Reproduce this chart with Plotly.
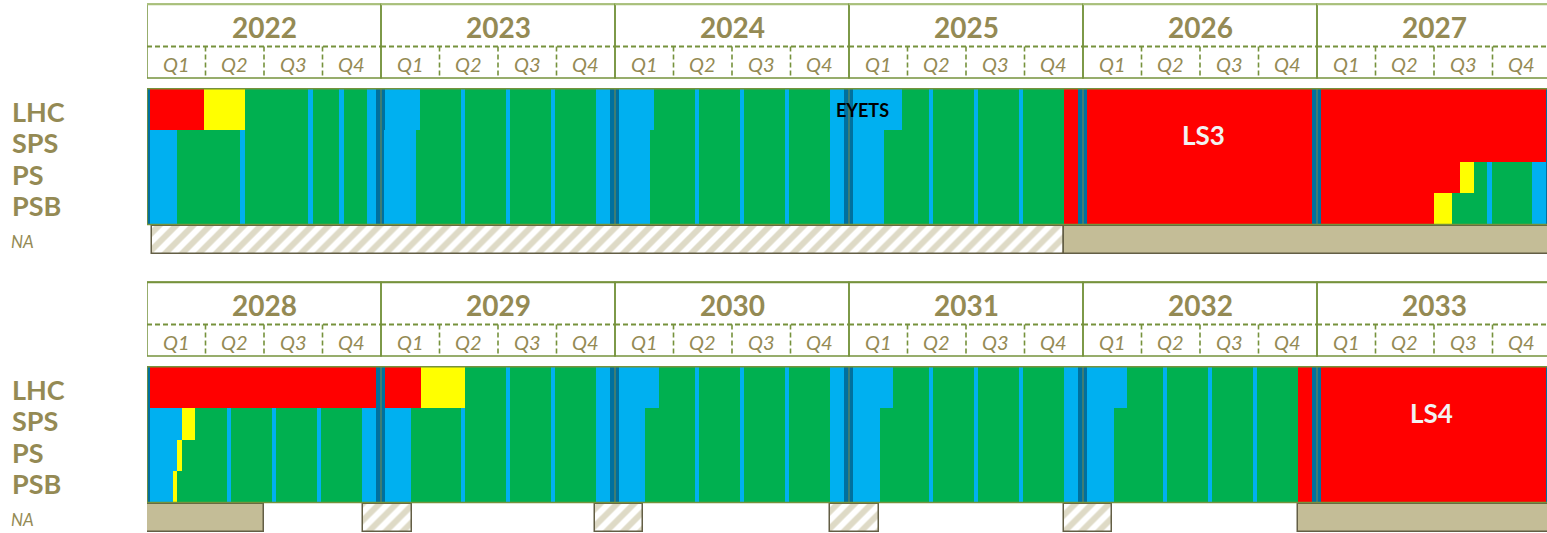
import plotly.graph_objects as go

# ---------------- DATA ----------------
YEARS_TOP = [2022, 2023, 2024, 2025, 2026, 2027]
YEARS_BOTTOM = [2028, 2029, 2030, 2031, 2032, 2033]
QUARTERS = ["Q1", "Q2", "Q3", "Q4"]
MACHINES = ["LHC", "SPS", "PS", "PSB"]

# state codes: T = year-end closure, B = technical stop / YETS, G = physics,
# Y = beam commissioning, R = shutdown.  Each entry = (start year, state);
# the state lasts until the next entry's start.
LHC = [
    (2022.000, "T"), (2022.013, "R"), (2022.244, "Y"), (2022.419, "G"), (2022.688, "B"), (2022.709, "G"),
    (2022.821, "B"), (2022.842, "G"), (2022.940, "B"), (2022.979, "T"),
    (2023.017, "B"), (2023.167, "G"), (2023.342, "B"), (2023.359, "G"), (2023.534, "B"), (2023.551, "G"),
    (2023.727, "B"), (2023.744, "G"), (2023.919, "B"), (2023.979, "T"),
    (2024.017, "B"), (2024.167, "G"), (2024.342, "B"), (2024.359, "G"), (2024.534, "B"), (2024.551, "G"),
    (2024.727, "B"), (2024.744, "G"), (2024.919, "B"), (2024.979, "T"),
    (2025.017, "B"), (2025.226, "G"), (2025.342, "B"), (2025.359, "G"), (2025.534, "B"), (2025.551, "G"),
    (2025.727, "B"), (2025.744, "G"), (2025.919, "R"), (2025.979, "T"),
    (2026.017, "R"), (2026.979, "T"), (2027.017, "R"), (2027.979, "T"),
    (2028.013, "R"), (2028.977, "T"),
    (2029.017, "R"), (2029.171, "Y"), (2029.359, "G"), (2029.534, "B"), (2029.551, "G"),
    (2029.727, "B"), (2029.744, "G"), (2029.919, "B"), (2029.979, "T"),
    (2030.017, "B"), (2030.188, "G"), (2030.342, "B"), (2030.359, "G"), (2030.534, "B"), (2030.551, "G"),
    (2030.727, "B"), (2030.744, "G"), (2030.919, "B"), (2030.979, "T"),
    (2031.017, "B"), (2031.188, "G"), (2031.342, "B"), (2031.359, "G"), (2031.534, "B"), (2031.551, "G"),
    (2031.727, "B"), (2031.744, "G"), (2031.919, "B"), (2031.979, "T"),
    (2032.017, "B"), (2032.188, "G"), (2032.342, "B"), (2032.359, "G"), (2032.534, "B"), (2032.551, "G"),
    (2032.727, "B"), (2032.744, "G"), (2032.919, "R"), (2032.979, "T"),
    (2033.017, "R"), (2033.979, "T"),
]

SPS = [
    (2022.000, "T"), (2022.013, "B"), (2022.128, "G"), (2022.397, "B"), (2022.419, "G"), (2022.688, "B"),
    (2022.709, "G"), (2022.821, "B"), (2022.842, "G"), (2022.940, "B"), (2022.979, "T"),
    (2023.013, "B"), (2023.150, "G"), (2023.342, "B"), (2023.359, "G"), (2023.534, "B"), (2023.551, "G"),
    (2023.727, "B"), (2023.744, "G"), (2023.919, "B"), (2023.979, "T"),
    (2024.017, "B"), (2024.150, "G"), (2024.342, "B"), (2024.359, "G"), (2024.534, "B"), (2024.551, "G"),
    (2024.727, "B"), (2024.744, "G"), (2024.919, "B"), (2024.979, "T"),
    (2025.017, "B"), (2025.150, "G"), (2025.342, "B"), (2025.359, "G"), (2025.534, "B"), (2025.551, "G"),
    (2025.727, "B"), (2025.744, "G"), (2025.919, "R"), (2025.979, "T"),
    (2026.017, "R"), (2026.979, "T"), (2027.017, "R"), (2027.979, "T"),
    (2028.013, "B"), (2028.148, "Y"), (2028.205, "G"), (2028.342, "B"), (2028.359, "G"), (2028.534, "B"),
    (2028.551, "G"), (2028.727, "B"), (2028.744, "G"), (2028.919, "B"), (2028.977, "T"),
    (2029.017, "B"), (2029.128, "G"), (2029.342, "B"), (2029.359, "G"), (2029.534, "B"), (2029.551, "G"),
    (2029.727, "B"), (2029.744, "G"), (2029.919, "B"), (2029.979, "T"),
    (2030.017, "B"), (2030.128, "G"), (2030.342, "B"), (2030.359, "G"), (2030.534, "B"), (2030.551, "G"),
    (2030.727, "B"), (2030.744, "G"), (2030.919, "B"), (2030.979, "T"),
    (2031.017, "B"), (2031.132, "G"), (2031.342, "B"), (2031.359, "G"), (2031.534, "B"), (2031.551, "G"),
    (2031.727, "B"), (2031.744, "G"), (2031.919, "B"), (2031.979, "T"),
    (2032.017, "B"), (2032.132, "G"), (2032.342, "B"), (2032.359, "G"), (2032.534, "B"), (2032.551, "G"),
    (2032.727, "B"), (2032.744, "G"), (2032.919, "R"), (2032.979, "T"),
    (2033.017, "R"), (2033.979, "T"),
]

PS = [
    (2022.000, "T"), (2022.013, "B"), (2022.128, "G"), (2022.397, "B"), (2022.419, "G"), (2022.688, "B"),
    (2022.709, "G"), (2022.821, "B"), (2022.842, "G"), (2022.940, "B"), (2022.979, "T"),
    (2023.013, "B"), (2023.150, "G"), (2023.342, "B"), (2023.359, "G"), (2023.534, "B"), (2023.551, "G"),
    (2023.727, "B"), (2023.744, "G"), (2023.919, "B"), (2023.979, "T"),
    (2024.017, "B"), (2024.150, "G"), (2024.342, "B"), (2024.359, "G"), (2024.534, "B"), (2024.551, "G"),
    (2024.727, "B"), (2024.744, "G"), (2024.919, "B"), (2024.979, "T"),
    (2025.017, "B"), (2025.150, "G"), (2025.342, "B"), (2025.359, "G"), (2025.534, "B"), (2025.551, "G"),
    (2025.727, "B"), (2025.744, "G"), (2025.919, "R"), (2025.979, "T"),
    (2026.017, "R"), (2026.979, "T"),
    (2027.017, "R"), (2027.611, "Y"), (2027.671, "G"), (2027.726, "B"), (2027.748, "G"), (2027.919, "B"),
    (2027.979, "T"),
    (2028.013, "B"), (2028.127, "Y"), (2028.148, "G"), (2028.342, "B"), (2028.359, "G"), (2028.534, "B"),
    (2028.551, "G"), (2028.727, "B"), (2028.744, "G"), (2028.919, "B"), (2028.977, "T"),
    (2029.017, "B"), (2029.128, "G"), (2029.342, "B"), (2029.359, "G"), (2029.534, "B"), (2029.551, "G"),
    (2029.727, "B"), (2029.744, "G"), (2029.919, "B"), (2029.979, "T"),
    (2030.017, "B"), (2030.128, "G"), (2030.342, "B"), (2030.359, "G"), (2030.534, "B"), (2030.551, "G"),
    (2030.727, "B"), (2030.744, "G"), (2030.919, "B"), (2030.979, "T"),
    (2031.017, "B"), (2031.132, "G"), (2031.342, "B"), (2031.359, "G"), (2031.534, "B"), (2031.551, "G"),
    (2031.727, "B"), (2031.744, "G"), (2031.919, "B"), (2031.979, "T"),
    (2032.017, "B"), (2032.132, "G"), (2032.342, "B"), (2032.359, "G"), (2032.534, "B"), (2032.551, "G"),
    (2032.727, "B"), (2032.744, "G"), (2032.919, "R"), (2032.979, "T"),
    (2033.017, "R"), (2033.979, "T"),
]

PSB = [
    (2022.000, "T"), (2022.013, "B"), (2022.128, "G"), (2022.397, "B"), (2022.419, "G"), (2022.688, "B"),
    (2022.709, "G"), (2022.821, "B"), (2022.842, "G"), (2022.940, "B"), (2022.979, "T"),
    (2023.013, "B"), (2023.150, "G"), (2023.342, "B"), (2023.359, "G"), (2023.534, "B"), (2023.551, "G"),
    (2023.727, "B"), (2023.744, "G"), (2023.919, "B"), (2023.979, "T"),
    (2024.017, "B"), (2024.150, "G"), (2024.342, "B"), (2024.359, "G"), (2024.534, "B"), (2024.551, "G"),
    (2024.727, "B"), (2024.744, "G"), (2024.919, "B"), (2024.979, "T"),
    (2025.017, "B"), (2025.150, "G"), (2025.342, "B"), (2025.359, "G"), (2025.534, "B"), (2025.551, "G"),
    (2025.727, "B"), (2025.744, "G"), (2025.919, "R"), (2025.979, "T"),
    (2026.017, "R"), (2026.979, "T"),
    (2027.017, "R"), (2027.500, "Y"), (2027.577, "G"), (2027.726, "B"), (2027.748, "G"), (2027.919, "B"),
    (2027.979, "T"),
    (2028.013, "B"), (2028.110, "Y"), (2028.127, "G"), (2028.342, "B"), (2028.359, "G"), (2028.534, "B"),
    (2028.551, "G"), (2028.727, "B"), (2028.744, "G"), (2028.919, "B"), (2028.977, "T"),
    (2029.017, "B"), (2029.128, "G"), (2029.342, "B"), (2029.359, "G"), (2029.534, "B"), (2029.551, "G"),
    (2029.727, "B"), (2029.744, "G"), (2029.919, "B"), (2029.979, "T"),
    (2030.017, "B"), (2030.128, "G"), (2030.342, "B"), (2030.359, "G"), (2030.534, "B"), (2030.551, "G"),
    (2030.727, "B"), (2030.744, "G"), (2030.919, "B"), (2030.979, "T"),
    (2031.017, "B"), (2031.132, "G"), (2031.342, "B"), (2031.359, "G"), (2031.534, "B"), (2031.551, "G"),
    (2031.727, "B"), (2031.744, "G"), (2031.919, "B"), (2031.979, "T"),
    (2032.017, "B"), (2032.132, "G"), (2032.342, "B"), (2032.359, "G"), (2032.534, "B"), (2032.551, "G"),
    (2032.727, "B"), (2032.744, "G"), (2032.919, "R"), (2032.979, "T"),
    (2033.017, "R"), (2033.979, "T"),
]
TIMELINE_END = 2034.0

# North Area: (start, end, kind)  kind: "hatch" = hatched block, "solid" = shutdown
NA_BLOCKS = [
    (2022.020, 2025.919, "hatch"), (2025.919, 2028.000, "solid"),
    (2028.000, 2028.498, "solid"), (2028.923, 2029.131, "hatch"),
    (2029.915, 2030.118, "hatch"), (2030.917, 2031.127, "hatch"),
    (2031.917, 2032.126, "hatch"), (2032.919, 2034.000, "solid"),
]

# text labels placed on the timeline: (text, year position, row, colour, size)
PERIOD_LABELS = [("EYETS", 2025.056, "LHC", "#000000", 18),
                 ("LS3", 2026.517, "SPS_LS", "#F2F2F2", 26),
                 ("LS4", 2033.491, "SPS_LS", "#F2F2F2", 26)]

# ---------------- STYLE ----------------
STATE_COLORS = {"T": "#00709E", "B": "#00B0F0", "G": "#00B050", "Y": "#FFFF00", "R": "#FF0000"}
OLIVE_TEXT = "#948A54"
GRID = "#76923C"
TAN = "#C4BD97"
NA_EDGE = "#635E45"
FONT = "Lato"

W, H = 1547, 533
LEFT = 147
YEAR_PX = 234.0
# vertical layout (local px units, identical for both panels)
HDR_TOP, HDR_MID, HDR_BOT = 4.3, 46.5, 78.0
ROW_EDGES = {"LHC": (88.7, 130.0), "SPS": (130.0, 161.7), "PS": (161.7, 193.3), "PSB": (193.3, 224.5)}
NA_EDGES = (225.5, 253.5)
LABEL_Y = {"LHC": 111, "SPS": 142.5, "PS": 174, "PSB": 205.5, "NA": 241.5}

series = {"LHC": LHC, "SPS": SPS, "PS": PS, "PSB": PSB}

fig = go.Figure()

panels = [
    dict(years=YEARS_TOP, xa="x", ya="y", top_color="#A9C07A"),
    dict(years=YEARS_BOTTOM, xa="x2", ya="y2", top_color=GRID),
]

for p in panels:
    # machine rows
    for state, color in STATE_COLORS.items():
        ys, ws, bases, lens = [], [], [], []
        for m in MACHINES:
            seg = series[m]
            y0, y1 = ROW_EDGES[m]
            for i, (start, st) in enumerate(seg):
                end = seg[i + 1][0] if i + 1 < len(seg) else TIMELINE_END
                if st != state:
                    continue
                ys.append((y0 + y1) / 2)
                ws.append(y1 - y0)
                bases.append(start)
                lens.append(end - start)
        fig.add_trace(go.Bar(orientation="h", y=ys, x=lens, base=bases, width=ws,
                             marker=dict(color=color, line=dict(width=0)),
                             xaxis=p["xa"], yaxis=p["ya"], hoverinfo="skip", showlegend=False))
    # North Area blocks
    for kind in ("hatch", "solid"):
        bases = [b[0] for b in NA_BLOCKS if b[2] == kind]
        lens = [b[1] - b[0] for b in NA_BLOCKS if b[2] == kind]
        ymid = (NA_EDGES[0] + NA_EDGES[1]) / 2
        if kind == "hatch":
            marker = dict(color="white", pattern=dict(shape="/", fgcolor="#BDB58D", bgcolor="white",
                                                      size=12, solidity=0.5),
                          line=dict(color=NA_EDGE, width=1.5))
        else:
            marker = dict(color=TAN, line=dict(color=NA_EDGE, width=1.5))
        fig.add_trace(go.Bar(orientation="h", y=[ymid] * len(bases), x=lens, base=bases,
                             width=[NA_EDGES[1] - NA_EDGES[0]] * len(bases), marker=marker,
                             xaxis=p["xa"], yaxis=p["ya"], hoverinfo="skip", showlegend=False))

shapes = []
annotations = []
DASH = "5px,3px"
for p in panels:
    xa, ya = p["xa"], p["ya"]
    y0 = p["years"][0]
    for yr in p["years"]:
        # year cell
        shapes.append(dict(type="rect", xref=xa, yref=ya, x0=yr, x1=yr + 1, y0=HDR_TOP, y1=HDR_BOT,
                           line=dict(color=GRID, width=1.5), layer="above"))
        shapes.append(dict(type="line", xref=xa, yref=ya, x0=yr, x1=yr + 1, y0=HDR_TOP, y1=HDR_TOP,
                           line=dict(color=p["top_color"], width=2), layer="above"))
        shapes.append(dict(type="line", xref=xa, yref=ya, x0=yr, x1=yr + 1, y0=HDR_MID, y1=HDR_MID,
                           line=dict(color=GRID, width=1.8, dash=DASH), layer="above"))
        for q in range(1, 4):
            shapes.append(dict(type="line", xref=xa, yref=ya, x0=yr + q / 4, x1=yr + q / 4,
                               y0=HDR_MID, y1=HDR_BOT, line=dict(color=GRID, width=1.6, dash=DASH),
                               layer="above"))
        annotations.append(dict(xref=xa, yref=ya, x=yr + 0.5, y=(HDR_TOP + HDR_MID) / 2 + 1.5,
                                text=f"<b>{yr}</b>", showarrow=False,
                                font=dict(family=FONT, size=28, color=OLIVE_TEXT)))
        for q, ql in enumerate(QUARTERS):
            annotations.append(dict(xref=xa, yref=ya, x=yr + q / 4 + 0.125, y=(HDR_MID + HDR_BOT) / 2 + 1.5,
                                    text=f"<i>{ql}</i>", showarrow=False,
                                    font=dict(family=FONT, size=20, color=OLIVE_TEXT)))
        # year boundary line through the machine rows
        shapes.append(dict(type="line", xref=xa, yref=ya, x0=yr, x1=yr,
                           y0=ROW_EDGES["LHC"][0], y1=ROW_EDGES["PSB"][1],
                           line=dict(color="#7F8A4A", width=1), layer="above"))
    # outer frame of machine rows
    shapes.append(dict(type="rect", xref=xa, yref=ya, x0=y0, x1=y0 + 7,
                       y0=ROW_EDGES["LHC"][0], y1=ROW_EDGES["PSB"][1],
                       line=dict(color=GRID, width=1.5), layer="above"))
    # row labels
    for m in MACHINES:
        annotations.append(dict(xref="paper", yref=ya, x=10 / W, y=LABEL_Y[m], xanchor="left",
                                text=f"<b>{m}</b>", showarrow=False,
                                font=dict(family=FONT, size=27, color=OLIVE_TEXT)))
    annotations.append(dict(xref="paper", yref=ya, x=9 / W, y=LABEL_Y["NA"], xanchor="left",
                            text="<i>NA</i>", showarrow=False,
                            font=dict(family=FONT, size=17, color=OLIVE_TEXT)))

for text, xpos, row, col, size in PERIOD_LABELS:
    p = panels[0] if xpos < 2028 else panels[1]
    yy = 110 if row == "LHC" else 134.5
    annotations.append(dict(xref=p["xa"], yref=p["ya"], x=xpos, y=yy, text=f"<b>{text}</b>",
                            showarrow=False, font=dict(family=FONT, size=size, color=col)))

xdom = [LEFT / W, 1.0]
span_years = (W - LEFT) / YEAR_PX
axis_off = dict(showgrid=False, zeroline=False, showticklabels=False, showline=False, ticks="")
fig.update_layout(
    width=W, height=H, margin=dict(l=0, r=0, t=0, b=0),
    paper_bgcolor="white", plot_bgcolor="white", barmode="overlay", bargap=0,
    xaxis=dict(domain=xdom, range=[YEARS_TOP[0], YEARS_TOP[0] + span_years], anchor="y", **axis_off),
    yaxis=dict(domain=[1 - 260 / H, 1.0], range=[260, 0], anchor="x", **axis_off),
    xaxis2=dict(domain=xdom, range=[YEARS_BOTTOM[0], YEARS_BOTTOM[0] + span_years], anchor="y2", **axis_off),
    yaxis2=dict(domain=[0, 255 / H], range=[255, 0], anchor="x2", **axis_off),
    shapes=shapes, annotations=annotations,
)

fig.write_html("out.html", config={"displayModeBar": False},
               post_script="document.body.style.margin='0px';")
